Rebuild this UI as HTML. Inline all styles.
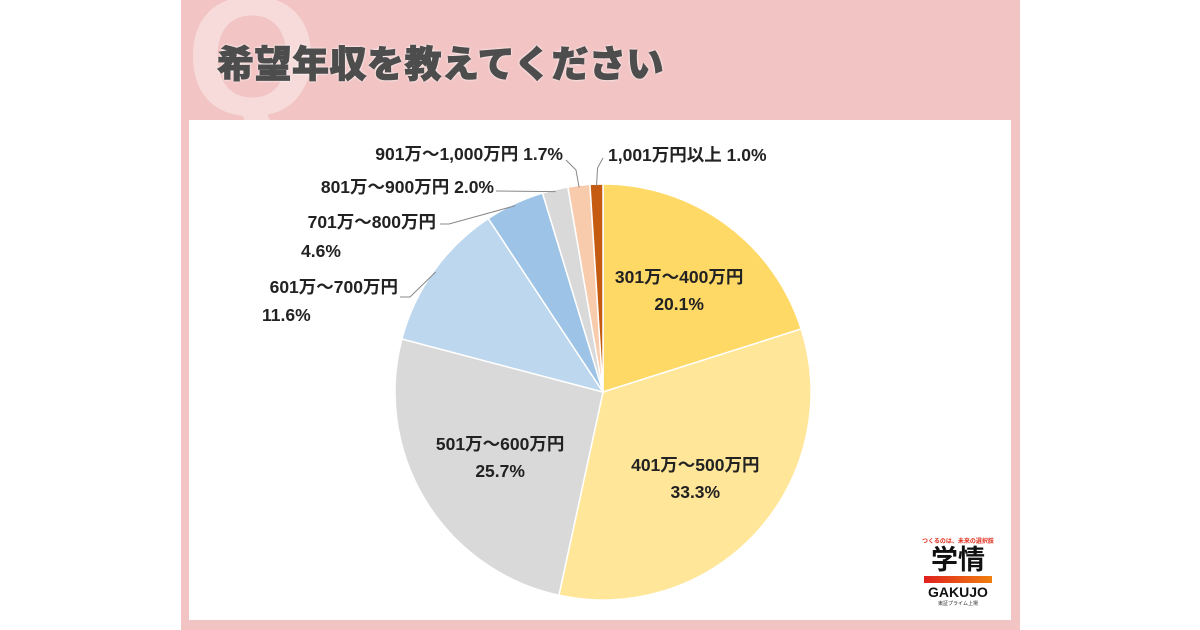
<!DOCTYPE html>
<html><head><meta charset="utf-8"><style>
body{margin:0;width:1200px;height:630px;background:#fff;position:relative;overflow:hidden;font-family:"Liberation Sans","Noto Sans CJK JP",sans-serif}
#bg{position:absolute;left:181px;top:0;width:839px;height:630px;background:#f2c4c4}
#panel{position:absolute;left:189px;top:120px;width:822px;height:500px;background:#fff}
#q{position:absolute;left:186px;top:-28px;font-size:170px;font-weight:bold;color:#f7dada;line-height:1}
#title{position:absolute;left:217px;top:46px;font-size:37px;font-weight:900;color:#4d4d4d;-webkit-text-stroke:1px #4d4d4d;text-shadow:0 0 3px #fff,0 0 2px #fff;letter-spacing:0.5px;line-height:1}
svg{position:absolute;left:0;top:0}
.lbl{font-size:17.5px;font-weight:bold;fill:#222}
</style></head><body>
<div id="bg"></div>
<div id="q">Q</div>
<div id="title">希望年収を教えてください</div>
<div id="panel"></div>
<svg width="1200" height="630" id="chart"></svg>
<div style="position:absolute;left:918px;top:536px;width:80px;text-align:center">
<div style="font-size:6px;color:#e0301e;font-weight:bold;white-space:nowrap">つくるのは、未来の選択肢</div>
<div style="font-size:27px;font-weight:bold;color:#111;line-height:30px">学情</div>
<div style="height:7px;margin:1px 6px;background:linear-gradient(90deg,#e0201e,#f08010)"></div>
<div style="font-size:14px;font-weight:bold;color:#111;line-height:16px">GAKUJO</div>
<div style="font-size:5px;color:#333">東証プライム上場</div>
</div>
<script>
const categories=["301万～400万円","401万～500万円","501万～600万円","601万～700万円","701万～800万円","801万～900万円","901万～1,000万円","1,001万円以上"];
const values=[20.1,33.3,25.7,11.6,4.6,2.0,1.7,1.0];
const colors=["#FFD966","#FFE699","#D9D9D9","#BDD7EE","#9DC3E6","#D9D9D9","#F8CBAD","#C55A11"];
const cx=603,cy=392,r=208;
const svg=document.getElementById('chart');
const NS="http://www.w3.org/2000/svg";
const total=values.reduce((a,b)=>a+b,0);
function pt(a,rr){return [cx+rr*Math.sin(a),cy-rr*Math.cos(a)];}
let a0=0;
const mids=[];
values.forEach((v,i)=>{
 const a1=a0+v/total*2*Math.PI;
 const p0=pt(a0,r),p1=pt(a1,r);
 const p=document.createElementNS(NS,'path');
 p.setAttribute('d',`M${cx},${cy}L${p0[0]},${p0[1]}A${r},${r} 0 ${a1-a0>Math.PI?1:0} 1 ${p1[0]},${p1[1]}Z`);
 p.setAttribute('fill',colors[i]);p.setAttribute('stroke','#fff');p.setAttribute('stroke-width','1.5');
 
 
 svg.appendChild(p);
 mids.push((a0+a1)/2);a0=a1;
});
function text(x,y,s,anchor,name){
 const t=document.createElementNS(NS,'text');
 t.setAttribute('x',x);t.setAttribute('y',y);t.setAttribute('class','lbl');t.setAttribute('text-anchor',anchor);t.textContent=s;
 
 
 svg.appendChild(t);
}
function line(pts,name){
 const ln=document.createElementNS(NS,'polyline');
 ln.setAttribute('points',pts);ln.setAttribute('fill','none');ln.setAttribute('stroke','#888');
 
 
 svg.appendChild(ln);
}
[[0,0.62],[1,0.6],[2,0.58]].forEach(([i,f])=>{
 const p=pt(mids[i],r*f);
 text(p[0],p[1]-5,categories[i],'middle','label-'+i);
 text(p[0],p[1]+22,values[i].toFixed(1)+'%','middle','value-'+i);
});
const pct=i=>values[i].toFixed(1)+'%';
let e;
e=pt(mids[7],r*0.99); line(`${e[0]},${e[1]} ${e[0]+1},168 603,158`,'leader-line-7');
text(608,161,categories[7]+' '+pct(7),'start','label-7');
e=pt(mids[6],r*0.99); line(`${e[0]},${e[1]} 576,170 566,160`,'leader-line-6');
text(563,160,categories[6]+' '+pct(6),'end','label-6');
e=pt(mids[5],r*0.99); line(`${e[0]},${e[1]} 496,191`,'leader-line-5');
text(494,193,categories[5]+' '+pct(5),'end','label-5');
e=pt(mids[4],r*0.99); line(`${e[0]},${e[1]} 449,224 440,224`,'leader-line-4');
text(436,228,categories[4],'end','label-4');
text(301,257,pct(4),'start','value-4');
e=pt(mids[3],r*0.99); line(`${e[0]},${e[1]} 410,297 400,297`,'leader-line-3');
text(398,293,categories[3],'end','label-3');
text(262,321,pct(3),'start','value-3');
</script>
</body></html>
